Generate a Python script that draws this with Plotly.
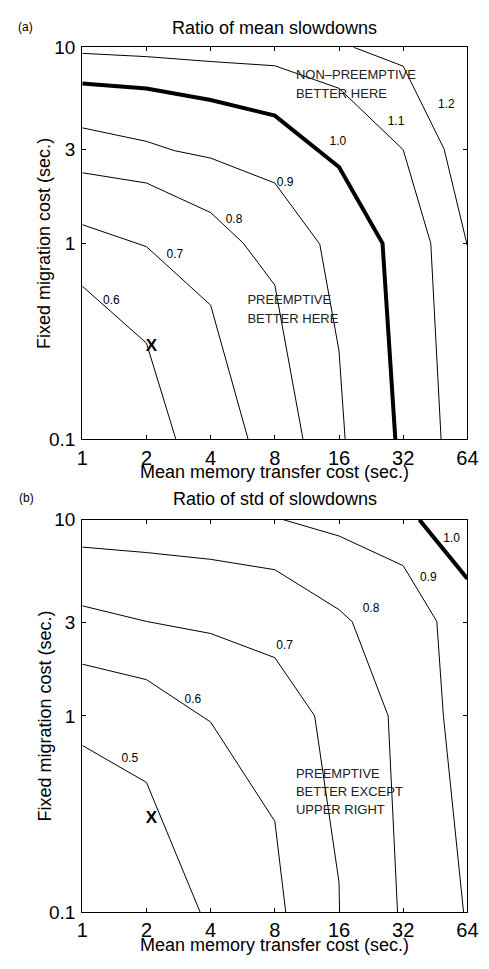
import math
import plotly.graph_objects as go

FONT = "Liberation Sans, Arial, Helvetica, sans-serif"

# ---------------- axes ticks ----------------
x_ticks = [1, 2, 4, 8, 16, 32, 64]
x_ticktext = ["1", "2", "4", "8", "16", "32", "64"]
y_ticks = [0.1, 1, 3, 10]
y_ticktext = ["0.1", "1", "3", "10"]

# ---------------- panel (a): ratio of mean slowdowns ----------------
a06_x = [1, 2, 2.75]
a06_y = [0.605, 0.31, 0.1]
a07_x = [1, 2, 4, 6.0]
a07_y = [1.245, 0.962, 0.484, 0.1]
a08_x = [1, 2, 4, 5.7, 8, 10.85]
a08_y = [2.29, 2.03, 1.435, 1.0, 0.612, 0.1]
a09_x = [1, 2, 2.7, 4, 8, 13.0, 16, 17.1]
a09_y = [3.88, 3.31, 2.97, 2.72, 2.03, 0.99, 0.283, 0.1]
a10_x = [1, 2, 4, 8, 16, 25.6, 29.4]
a10_y = [6.52, 6.15, 5.38, 4.48, 2.45, 1.0, 0.1]
a11_x = [1, 2, 4, 8, 16, 32, 43.1, 48.2]
a11_y = [9.3, 8.95, 8.45, 8.04, 6.17, 3.0, 1.0, 0.1]
a12_x = [18.7, 32, 49.8, 62.7, 64]
a12_y = [10, 8.0, 3.02, 1.06, 0.97]

a_lines = [(a06_x, a06_y, 1), (a07_x, a07_y, 1), (a08_x, a08_y, 1),
           (a09_x, a09_y, 1), (a10_x, a10_y, 4), (a11_x, a11_y, 1),
           (a12_x, a12_y, 1)]

a_label_text = ["0.6", "0.7", "0.8", "0.9", "1.0", "1.1", "1.2"]
a_label_x = [1.37, 2.72, 5.15, 8.95, 15.8, 29.6, 51.0]
a_label_y = [0.51, 0.875, 1.32, 2.03, 3.3, 4.15, 5.1]

a_region_text = ["NON–PREEMPTIVE", "BETTER HERE", "PREEMPTIVE", "BETTER HERE"]
a_region_x = [10.05, 10.05, 5.95, 5.95]
a_region_y = [7.15, 5.7, 0.51, 0.406]

a_mark_x = [2.11]
a_mark_y = [0.298]

# ---------------- panel (b): ratio of std of slowdowns ----------------
b05_x = [1, 2, 3.57]
b05_y = [0.707, 0.458, 0.1]
b06_x = [1, 2, 4, 8, 9.0]
b06_y = [1.835, 1.53, 0.93, 0.29, 0.1]
b07_x = [1, 2, 4, 8, 12.3, 16, 16.1]
b07_y = [3.64, 3.03, 2.63, 1.98, 1.0, 0.142, 0.1]
b08_x = [1, 2, 4, 8, 16, 18.45, 27.2, 30.1]
b08_y = [7.25, 6.8, 6.28, 5.56, 3.48, 3.02, 1.0, 0.1]
b09_x = [8.77, 16, 32, 46.0, 49.4, 61.4]
b09_y = [10, 8.26, 5.83, 3.03, 1.0, 0.1]
b10_x = [38.1, 64]
b10_y = [10, 5.0]

b_lines = [(b05_x, b05_y, 1), (b06_x, b06_y, 1), (b07_x, b07_y, 1),
           (b08_x, b08_y, 1), (b09_x, b09_y, 1), (b10_x, b10_y, 4)]

b_label_text = ["0.5", "0.6", "0.7", "0.8", "0.9", "1.0"]
b_label_x = [1.67, 3.3, 8.9, 22.6, 42.0, 54.0]
b_label_y = [0.605, 1.2, 2.26, 3.52, 5.03, 7.98]

b_region_text = ["PREEMPTIVE", "BETTER EXCEPT", "UPPER RIGHT"]
b_region_x = [10.05, 10.05, 10.05]
b_region_y = [0.5, 0.404, 0.329]

b_mark_x = [2.11]
b_mark_y = [0.299]

# ---------------- figure ----------------
W, H = 489, 969
fig = go.Figure()


def add_panel(lines, lx, ly, lt, rx, ry, rt, mx, my, xa, ya):
    for xs, ys, w in lines:
        fig.add_trace(go.Scatter(x=xs, y=ys, mode="lines",
                                 line=dict(color="black", width=w),
                                 xaxis=xa, yaxis=ya, hoverinfo="skip",
                                 showlegend=False))
    fig.add_trace(go.Scatter(x=lx, y=ly, text=lt, mode="text",
                             textposition="middle center",
                             textfont=dict(family=FONT, size=12, color="black"),
                             xaxis=xa, yaxis=ya, showlegend=False, hoverinfo="skip"))
    fig.add_trace(go.Scatter(x=rx, y=ry, text=rt, mode="text",
                             textposition="middle right",
                             textfont=dict(family=FONT, size=13, color="#222"),
                             xaxis=xa, yaxis=ya, showlegend=False, hoverinfo="skip"))
    fig.add_trace(go.Scatter(x=mx, y=my, text=["<b>X</b>"] * len(mx), mode="text",
                             textposition="middle center",
                             textfont=dict(family=FONT, size=17, color="black"),
                             xaxis=xa, yaxis=ya, showlegend=False, hoverinfo="skip"))


add_panel(a_lines, a_label_x, a_label_y, a_label_text,
          a_region_x, a_region_y, a_region_text, a_mark_x, a_mark_y, "x", "y")
add_panel(b_lines, b_label_x, b_label_y, b_label_text,
          b_region_x, b_region_y, b_region_text, b_mark_x, b_mark_y, "x2", "y2")

x0, x1 = 79, 478
a_top, a_bot = 38, 439
b_top, b_bot = 521, 922

common_x = dict(type="log", range=[0, math.log10(64)], tickvals=x_ticks,
                ticktext=x_ticktext, ticks="inside", ticklen=4, tickwidth=1,
                tickcolor="black", showline=True, linecolor="black", linewidth=1.3,
                mirror="ticks", showgrid=False, zeroline=False,
                ticklabeloverflow="allow",
                tickfont=dict(family=FONT, size=20, color="black"),
                domain=[x0 / W, x1 / W], fixedrange=True)
common_y = dict(type="log", range=[-1, 1], tickvals=y_ticks, ticktext=y_ticktext,
                ticks="inside", ticklen=4, tickwidth=1, tickcolor="black",
                showline=True, linecolor="black", linewidth=1.3, mirror="ticks",
                showgrid=False, zeroline=False, ticklabelstandoff=2,
                ticklabeloverflow="allow",
                tickfont=dict(family=FONT, size=19, color="black"), fixedrange=True)

fig.update_layout(
    width=W, height=H,
    margin=dict(l=0, r=0, t=0, b=0),
    paper_bgcolor="white", plot_bgcolor="white",
    showlegend=False,
    xaxis=dict(common_x, anchor="y"),
    yaxis=dict(common_y, anchor="x", domain=[1 - a_bot / H, 1 - a_top / H]),
    xaxis2=dict(common_x, anchor="y2"),
    yaxis2=dict(common_y, anchor="x2", domain=[1 - b_bot / H, 1 - b_top / H]),
)

cx = (x0 + x1) / 2 / W
ann = []
# titles
ann.append(dict(text="Ratio of mean slowdowns", x=cx, y=1 - 18 / H))
ann.append(dict(text="Ratio of std of slowdowns", x=cx, y=1 - 500 / H))
for a in ann:
    a.update(xref="paper", yref="paper", showarrow=False, xanchor="center",
             yanchor="middle", font=dict(family=FONT, size=18, color="black"))
# panel tags
tags = [dict(text="(a)", x=20 / W, y=1 - 17 / H), dict(text="(b)", x=21 / W, y=1 - 499 / H)]
for t in tags:
    t.update(xref="paper", yref="paper", showarrow=False, xanchor="center",
             yanchor="middle", font=dict(family=FONT, size=12, color="black"))
ann += tags
# axis titles
axt = [dict(text="Mean memory transfer cost (sec.)", x=cx, y=1 - 472 / H),
       dict(text="Mean memory transfer cost (sec.)", x=cx, y=1 - 956 / H),
       dict(text="Fixed migration cost (sec.)", x=40 / W,
            y=1 - (a_top + a_bot) / 2 / H, textangle=-90),
       dict(text="Fixed migration cost (sec.)", x=40 / W,
            y=1 - (b_top + b_bot) / 2 / H, textangle=-90)]
for t in axt:
    t.update(xref="paper", yref="paper", showarrow=False, xanchor="center",
             yanchor="middle", font=dict(family=FONT, size=18, color="black"))
ann += axt
fig.update_layout(annotations=ann)

fig.write_html("out.html")
